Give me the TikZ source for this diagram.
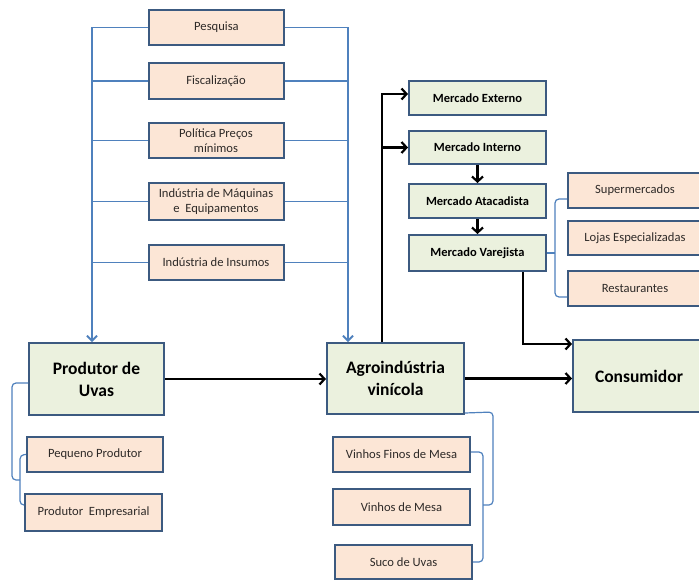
\documentclass[tikz,border=0pt]{standalone}
\usepackage{fontspec}
\setmainfont{Carlito}
\usetikzlibrary{arrows.meta}
\definecolor{bord}{HTML}{3C5A80}
\definecolor{peach}{HTML}{FCE6D6}
\definecolor{greenf}{HTML}{EBF1DE}
\definecolor{blueln}{HTML}{4F81BD}
\definecolor{txt}{HTML}{2E2A28}
\begin{document}
\begin{tikzpicture}[x=1pt,y=-1pt,
 box/.style={draw=bord, line width=2pt, align=center, inner sep=0pt},
 pbox/.style={box, fill=peach, font=\fontsize{12.6}{15}\selectfont, text=txt},
 gbox/.style={box, fill=greenf, font=\bfseries\fontsize{12.5}{15}\selectfont},
 bigbox/.style={box, fill=greenf, font=\bfseries\fontsize{17.5}{22}\selectfont},
 bl/.style={draw=blueln, line width=1.8pt},
 blarr/.style={bl, -{Straight Barb[length=5pt,width=10pt]}},
 brc/.style={draw=blueln, line width=1.2pt, rounded corners=4pt},
 blk/.style={draw=black, line width=2.2pt},
 blkarr/.style={blk, -{Straight Barb[length=5pt,width=11pt]}},
]
\path[use as bounding box] (0,0) rectangle (699,581);
\clip (0,0) rectangle (699,581);
\fill[white] (0,0) rectangle (699,581);

% top boxes
\node[pbox, minimum width=135pt, minimum height=35pt] (pesq) at (216.5,27.5) {Pesquisa};
\node[pbox, minimum width=135pt, minimum height=36pt] (fisc) at (216,81) {Fiscalização};
\node[pbox, minimum width=135pt, minimum height=35pt] (pol) at (216,140.5) {Política Preços\\mínimos};
\node[pbox, minimum width=135pt, minimum height=37pt] (maq) at (216,201.5) {Indústria de Máquinas\\e\ \ Equipamentos};
\node[pbox, minimum width=135pt, minimum height=35pt] (ins) at (216,262.5) {Indústria de Insumos};

% main boxes
\node[bigbox, minimum width=135pt, minimum height=72pt] (prod) at (96.5,379) {Produtor de\\Uvas};
\node[bigbox, minimum width=137pt, minimum height=71pt] (agro) at (395.5,378.5) {Agroindústria\\vinícola};
\node[bigbox, minimum width=132pt, minimum height=72pt] (cons) at (639,376) {Consumidor};

% markets
\node[gbox, minimum width=137pt, minimum height=34pt] (ext) at (477.5,98) {Mercado Externo};
\node[gbox, minimum width=137pt, minimum height=33pt] (int) at (477.5,147.5) {Mercado Interno};
\node[gbox, minimum width=137pt, minimum height=34pt] (ata) at (477.5,201) {Mercado Atacadista};
\node[gbox, minimum width=137pt, minimum height=36pt] (var) at (477.5,253) {Mercado Varejista};

% retail
\node[pbox, minimum width=134pt, minimum height=35pt] (sup) at (635,190.5) {Supermercados};
\node[pbox, minimum width=134pt, minimum height=34pt] (loj) at (635,238) {Lojas Especializadas};
\node[pbox, minimum width=134pt, minimum height=35pt] (res) at (635,288.5) {Restaurantes};

% producers
\node[pbox, minimum width=136pt, minimum height=35pt] (peq) at (95,454.5) {Pequeno Produtor};
\node[pbox, minimum width=137pt, minimum height=37pt] (emp) at (93.5,512.5) {Produtor\ \ Empresarial};

% products
\node[pbox, minimum width=137pt, minimum height=35pt] (vfm) at (401.5,454.5) {Vinhos Finos de Mesa};
\node[pbox, minimum width=137pt, minimum height=36pt] (vm) at (401.5,507) {Vinhos de Mesa};
\node[pbox, minimum width=137pt, minimum height=34pt] (suco) at (403.5,562) {Suco de Uvas};

% blue connectors
\coordinate (lx) at (92,0);
\coordinate (rx) at (348,0);
\draw[blarr] (pesq.west) -| (lx |- prod.north);
\foreach \n in {fisc,pol,maq,ins} \draw[bl] (\n.west) -- (\n.west -| lx);
\draw[blarr] (pesq.east) -| (rx |- agro.north);
\foreach \n in {fisc,pol,maq,ins} \draw[bl] (\n.east) -- (\n.east -| rx);

% black arrows
\draw[blkarr] (prod.east) -- (prod.east -| agro.west);
\draw[blkarr] (agro.east) -- (agro.east -| cons.west);
\coordinate (ax) at (382,0);
\draw[blkarr] (ax |- agro.north) |- ([yshift=4pt]ext.west);
\draw[blkarr] (ax |- int.west) -- (int.west);
\draw[blkarr] (int.south) -- (ata.north);
\draw[blkarr] (ata.south) -- (var.north);
\coordinate (vx) at (523,0);
\draw[blkarr] (vx |- var.south) |- ([yshift=32pt]cons.west);

% braces
\draw[brc] (sup.west |- 0,199) -- (555,199) -- (555,297) -- (res.west |- 0,297);
\draw[brc, sharp corners] (555,253) -- (var.east);
\draw[brc] ([yshift=-4pt]prod.west) -- (12,383) -- (12,480) -- (20,480);
\draw[brc] (peq.west) -- (20,455) -- (20,505) -- (emp.west |- 0,505);
\draw[brc] ([yshift=2pt]agro.south east) -- (493,412) -- (493,505) -- (483,505);
\draw[brc] (vfm.east |- 0,452) -- (483,452) -- (483,562) -- (suco.east);
\end{tikzpicture}
\end{document}
